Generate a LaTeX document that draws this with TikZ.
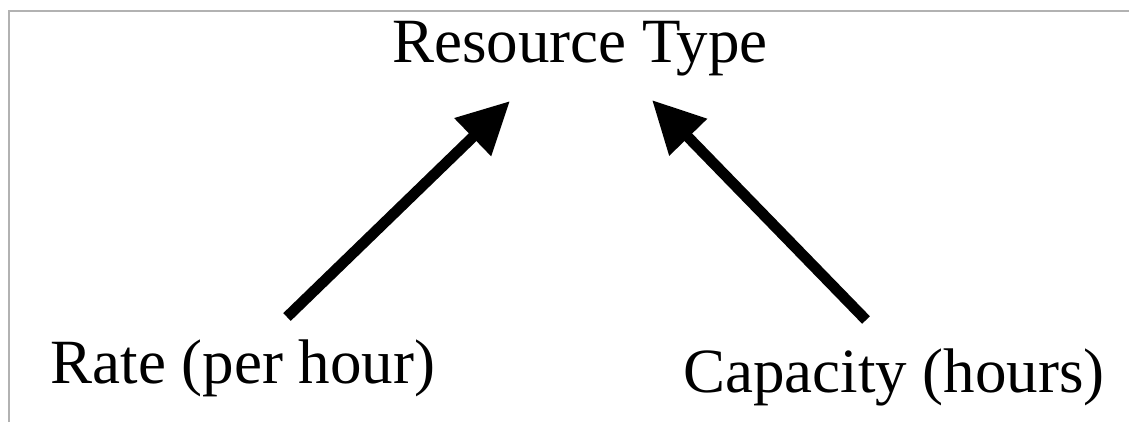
\documentclass[tikz,border=0pt]{standalone}
\usepackage{fontspec}
\setmainfont{Liberation Serif}
\usetikzlibrary{arrows.meta}

\begin{document}
\begin{tikzpicture}[x=0.025cm, y=-0.025cm,
    lbl/.style={inner sep=0pt, anchor=base, font=\fontsize{44.8}{54}\selectfont},
    arr/.style={line width=0.27cm, -{Triangle[length=1.3cm, width=1.25cm]}}]
        \useasboundingbox (0, 0) rectangle (1129, 422);
        \draw[gray!60, line width=0.07cm] (9, 422) -- (9, 11) -- (1129, 11);
        \node[lbl] (type) at (580, 62) {Resource Type};
        \node[lbl] (rate) at (243, 383) {Rate (per hour)};
        \node[lbl] (cap) at (894, 392) {Capacity (hours)};
        \coordinate (rate tail) at (287, 317);
        \coordinate (cap tail) at (866, 320);
        \coordinate (type left) at (510, 101);
        \coordinate (type right) at (652, 100);
        \draw[arr] (rate tail) -- (type left);
        \draw[arr] (cap tail) -- (type right);
    \end{tikzpicture}
\end{document}
